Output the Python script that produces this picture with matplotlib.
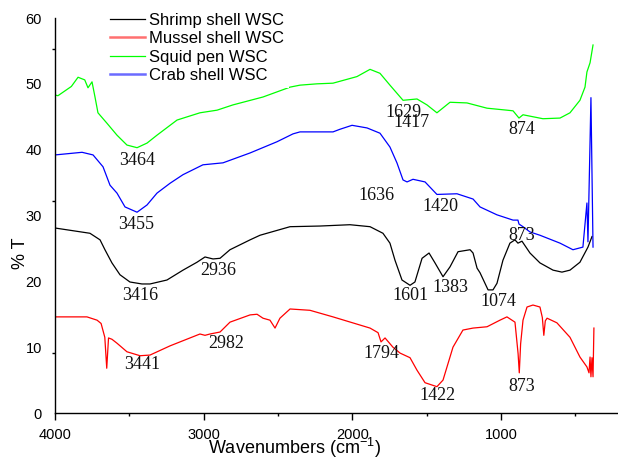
import matplotlib
matplotlib.use("Agg")
import matplotlib.pyplot as plt
from matplotlib.ticker import FixedLocator

plt.rcParams['font.family'] = ['Liberation Sans', 'DejaVu Sans']
plt.rcParams['mathtext.fontset'] = 'custom'
plt.rcParams['mathtext.rm'] = 'Liberation Sans'

# ---------------- data ----------------
shrimp_w = [4000, 3765, 3697, 3664, 3617, 3563, 3496, 3415, 3361, 3247, 3139, 3045, 2991, 2937, 2890,
            2823, 2688, 2621, 2419, 2218, 2016, 1881, 1794, 1747, 1713, 1666, 1612, 1579, 1531, 1484,
            1444, 1390, 1343, 1289, 1208, 1188, 1161, 1141, 1087, 1054, 1027, 987, 940, 906, 886,
            859, 805, 738, 650, 590, 536, 469, 415, 388]
shrimp_t = [28.1, 27.3, 26.3, 24.8, 22.8, 21.0, 19.9, 19.6, 19.6, 20.2, 21.7, 22.9, 23.7, 23.4, 23.5,
            24.8, 26.3, 27.0, 28.3, 28.4, 28.6, 28.3, 27.3, 25.8, 23.2, 20.2, 19.4, 19.9, 23.5, 24.3,
            22.8, 20.7, 22.2, 24.5, 24.8, 24.3, 22.0, 21.3, 18.7, 18.7, 19.7, 23.2, 25.8, 26.3, 25.8,
            26.1, 24.3, 22.8, 21.7, 21.4, 21.7, 22.9, 25.2, 26.8]

mussel_w = [4000, 3785, 3717, 3690, 3665, 3652, 3640, 3617, 3583, 3516, 3428, 3361, 3226, 3025, 2991,
            2957, 2890, 2823, 2688, 2641, 2601, 2554, 2520, 2487, 2419, 2285, 2130, 1881, 1827, 1807,
            1780, 1727, 1679, 1612, 1565, 1511, 1431, 1390, 1323, 1256, 1188, 1094, 1007, 960, 906,
            885, 877, 868, 852, 825, 785, 738, 722, 712, 702, 690, 624, 536, 469, 422, 408, 401,
            395, 388, 381, 375]
mussel_t = [14.6, 14.6, 14.1, 13.6, 11.5, 6.8, 11.4, 11.2, 10.6, 9.3, 8.7, 8.8, 10.2, 12.0, 11.8,
            12.0, 12.3, 13.8, 14.9, 15.0, 14.4, 14.1, 12.9, 14.4, 15.8, 15.6, 14.6, 12.9, 12.2, 10.8,
            11.4, 10.0, 9.1, 8.4, 6.5, 4.6, 4.0, 5.0, 10.0, 12.6, 12.9, 13.1, 14.1, 14.6, 13.8,
            9.0, 6.1, 10.5, 14.1, 16.1, 16.4, 16.1, 14.5, 11.8, 14.0, 14.4, 13.7, 11.5, 8.5, 7.0, 6.1, 8.5,
            5.5, 8.4, 5.5, 12.9]

squid_w = [4000, 3980, 3890, 3845, 3800, 3778, 3751, 3731, 3711, 3650, 3583, 3516, 3448, 3381, 3314,
           3179, 3025, 2910, 2803, 2601, 2419, 2352, 2238, 2130, 1969, 1881, 1814, 1747, 1659, 1565,
           1498, 1431, 1343, 1229, 1094, 960, 919, 879, 852, 718, 603, 536, 469, 435, 422, 401, 381]
squid_t = [48.3, 48.2, 49.6, 51.0, 50.6, 49.4, 50.3, 48.0, 45.6, 44.0, 42.2, 40.7, 40.3, 41.0, 42.2,
           44.5, 45.6, 46.0, 46.8, 48.0, 49.5, 49.8, 50.0, 50.1, 51.1, 52.2, 51.6, 49.8, 47.5, 47.7,
           46.8, 45.6, 47.2, 47.1, 46.3, 46.0, 45.9, 44.8, 45.3, 44.7, 44.8, 45.6, 47.5, 49.5, 51.8,
           53.2, 55.9]

crab_w = [4000, 3818, 3744, 3677, 3630, 3583, 3529, 3448, 3381, 3314, 3226, 3139, 3005, 2870, 2688,
          2507, 2399, 2352, 2130, 2083, 2002, 1901, 1814, 1747, 1700, 1659, 1632, 1592, 1511, 1431,
          1296, 1188, 1141, 1027, 919, 886, 879, 852, 805, 738, 603, 516, 449, 422, 415, 401, 395, 381]
crab_t = [39.2, 39.6, 39.2, 37.4, 34.6, 33.4, 31.3, 30.5, 31.6, 33.4, 34.9, 36.2, 37.7, 38.0, 39.5,
          41.2, 42.4, 42.7, 42.7, 43.1, 43.7, 43.3, 42.5, 40.4, 38.0, 35.4, 35.1, 35.5, 35.1, 33.2,
          33.3, 32.5, 31.3, 30.1, 29.3, 29.3, 28.7, 28.3, 27.5, 27.0, 25.8, 24.8, 25.2, 31.9, 26.0,
          41.2, 47.9, 25.2]

series_names = ['Shrimp shell WSC', 'Mussel shell WSC', 'Squid pen WSC', 'Crab shell WSC']

peak_labels = ['3464', '3455', '1629', '1417', '874', '1636', '1420', '873', '2936', '3416',
               '1601', '1383', '1074', '3441', '2982', '1794', '1422', '873']
peak_w = [3448, 3455, 1659, 1599, 859, 1841, 1410, 859, 2904, 3428,
          1612, 1343, 1020, 3415, 2850, 1807, 1424, 859]
peak_t = [38.4, 28.6, 45.7, 44.1, 43.0, 33.1, 31.4, 26.9, 21.7, 17.8,
          17.9, 19.1, 16.9, 7.3, 10.5, 9.1, 2.7, 4.1]

x_major = [4000, 3000, 2000, 1000]
x_minor = [3500, 2500, 1500, 500]
y_major = [0, 10, 20, 30, 40, 50, 60]
y_minor = [9.1, 32.2, 55.3]

# ---------------- figure ----------------
fig = plt.figure(figsize=(6.18, 4.61), dpi=100)
ax = fig.add_axes([55/618, 48/461, 563/618, 395/461])

lw = 0.9
l1, = ax.plot(shrimp_w, shrimp_t, color='black', lw=lw, label=series_names[0])
l2, = ax.plot(mussel_w, mussel_t, color='#ff0000', lw=lw, label=series_names[1])
l3, = ax.plot(squid_w, squid_t, color='#00ff00', lw=lw, label=series_names[2])
l4, = ax.plot(crab_w, crab_t, color='#0000ff', lw=lw, label=series_names[3])

for lab, w, t in zip(peak_labels, peak_w, peak_t):
    ax.text(w, t, lab, family=['Liberation Serif'], fontsize=13,
            ha='center', va='center', color='#111111')

ax.set_xlim(4000, 213)
ax.set_ylim(0, 60)
ax.spines['top'].set_visible(False)
ax.spines['right'].set_visible(False)
for s in ('left', 'bottom'):
    ax.spines[s].set_linewidth(1.0)

ax.xaxis.set_major_locator(FixedLocator(x_major))
ax.xaxis.set_minor_locator(FixedLocator(x_minor))
ax.yaxis.set_major_locator(FixedLocator(y_major))
ax.yaxis.set_minor_locator(FixedLocator(y_minor))
ax.tick_params(axis='x', which='major', length=5, width=1, direction='out', pad=5.5, labelsize=10.5)
ax.tick_params(axis='x', which='minor', length=2.5, width=1, direction='out')
ax.tick_params(axis='y', which='major', length=0, pad=9.5, labelsize=10.5)
ax.tick_params(axis='y', which='minor', length=2, width=1, direction='out')

ax.set_xlabel('Wavenumbers (cm$^{\\mathregular{-1}}$)', fontsize=13, va='baseline')
ax.xaxis.set_label_coords(0.426, -0.105)
ax.set_ylabel('% T', fontsize=13, va='center')
ax.yaxis.set_label_coords(-0.062, 0.405)

leg = ax.legend(handles=[l1, l2, l3, l4], loc='upper left',
                bbox_to_anchor=(105/618, 1 - 8/461), bbox_transform=fig.transFigure,
                fontsize=12, frameon=True, facecolor='white', edgecolor='none', framealpha=1,
                fancybox=False, borderpad=0.3, labelspacing=0.2, handlelength=2.1,
                handletextpad=0.25, borderaxespad=0)
leg.set_zorder(5)
leg_lines = leg.get_lines()
leg_lines[1].set_color('#ff7070'); leg_lines[1].set_linewidth(1.8)
leg_lines[3].set_color('#6b6bff'); leg_lines[3].set_linewidth(1.8)

fig.savefig('out.png', dpi=100)
